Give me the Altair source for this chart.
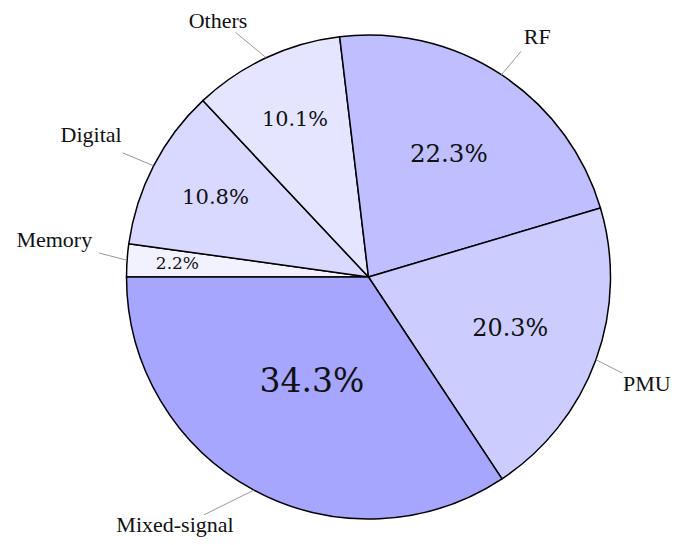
import altair as alt
import pandas as pd

# ---- data (clockwise from the 9 o'clock position) ----
labels = ["Memory", "Digital", "Others", "RF", "PMU", "Mixed-signal"]
values = [2.2, 10.8, 10.1, 22.3, 20.3, 34.3]
colors = ["#f2f2ff", "#d9d9ff", "#e5e5ff", "#bfbfff", "#ccccff", "#a6a6ff"]

df = pd.DataFrame({"idx": list(range(len(labels))), "label": labels, "value": values})

# ---- layout constants ----
W, H = 663, 529
CX, CY, R = 360.5, 269.0, 242.0
PIN = 270.0          # radius of label anchor corner
SERIF = "Liberation Serif"
NUMFONT = "DejaVu Serif"

base = (
    alt.Chart(df)
    .transform_window(cum="sum(value)", sort=[alt.SortField("idx")], frame=[None, 0])
    .transform_joinaggregate(total="sum(value)")
    .transform_calculate(
        t0="1.5*PI + 2*PI*(datum.cum - datum.value)/datum.total",
        t1="1.5*PI + 2*PI*datum.cum/datum.total",
    )
    .transform_calculate(tm="(datum.t0 + datum.t1)/2")
    .transform_calculate(ux="sin(datum.tm)", uy="-cos(datum.tm)")
    .transform_calculate(
        rin=f"{R}*(0.812 - 0.0093*datum.value)",
        pct="format(datum.value, '.1f') + '%'",
        lx0=f"{CX} + {R}*datum.ux",
        ly0=f"{CY} + {R}*datum.uy",
        cx1=f"{CX} + {PIN}*datum.ux",
        cy1=f"{CY} + {PIN}*datum.uy",
        bw="10*length(datum.label) + 14",
        bh="30",
    )
    .transform_calculate(
        px=f"{CX} + datum.rin*datum.ux",
        py=f"{CY} + datum.rin*datum.uy",
        ccx="datum.cx1 + (datum.ux < 0 ? -datum.bw/2 : datum.bw/2)",
        ccy="datum.cy1 + (datum.uy < 0 ? -datum.bh/2 : datum.bh/2)",
        tlx="datum.cx1 + (datum.ux < 0 ? -7 : 7)",
        tly="datum.cy1 + (datum.uy < 0 ? (test(/[gjpqy]/, datum.label) ? -11 : -7) : 21.5)",
    )
    .transform_calculate(
        tly2=f"max(min(datum.tly, {H} - 5), 20)",
        tlx2=f"datum.ux < 0 ? datum.tlx : min(datum.tlx, {W} - 16*length(datum.label))",
    )
    .transform_calculate(
        tt="max((datum.cx1 - datum.lx0)/(datum.ccx - datum.lx0), (datum.cy1 - datum.ly0)/(datum.ccy - datum.ly0))"
    )
    .transform_calculate(
        ex="datum.lx0 + datum.tt*(datum.ccx - datum.lx0)",
        ey="datum.ly0 + datum.tt*(datum.ccy - datum.ly0)",
    )
)

slices = base.mark_arc(outerRadius=R, stroke="black", strokeWidth=1.5, strokeJoin="round").encode(
    theta=alt.Theta("t0:Q", scale=None),
    theta2=alt.Theta2("t1:Q"),
    x=alt.value(CX),
    y=alt.value(CY),
    color=alt.Color("label:N", scale=alt.Scale(domain=labels, range=colors), legend=None),
)

pct_text = base.mark_text(font=NUMFONT, baseline="middle", align="center", color="#111111").encode(
    x=alt.X("px:Q", scale=None),
    y=alt.Y("py:Q", scale=None),
    text="pct:N",
    size=alt.Size(
        "value:Q",
        scale=alt.Scale(type="linear", domain=[2.2, 10.5, 22.3, 34.3], range=[17, 21, 24.5, 33], zero=False),
        legend=None,
    ),
)

pins = base.mark_rule(color="#8c8c8c", strokeWidth=0.9).encode(
    x=alt.X("lx0:Q", scale=None),
    y=alt.Y("ly0:Q", scale=None),
    x2="ex:Q",
    y2="ey:Q",
)

lab_right = base.transform_filter("datum.ux < 0").mark_text(
    font=SERIF, fontSize=22, align="right", baseline="alphabetic", color="#111111"
).encode(x=alt.X("tlx2:Q", scale=None), y=alt.Y("tly2:Q", scale=None), text="label:N")

lab_left = base.transform_filter("datum.ux >= 0").mark_text(
    font=SERIF, fontSize=22, align="left", baseline="alphabetic", color="#111111"
).encode(x=alt.X("tlx2:Q", scale=None), y=alt.Y("tly2:Q", scale=None), text="label:N")

chart = (
    alt.layer(slices, pins, pct_text, lab_right, lab_left)
    .properties(width=W, height=H, padding=0, autosize="none")
    .configure_view(stroke=None)
)

chart.save("out.html", embed_options={"renderer": "svg", "actions": False})
